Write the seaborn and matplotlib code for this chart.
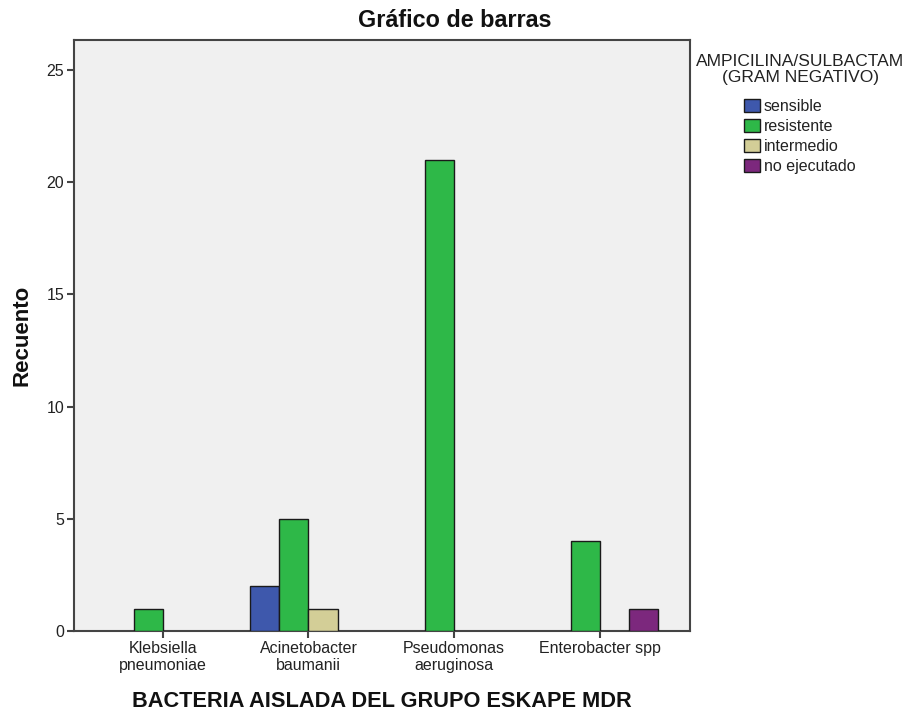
import matplotlib
matplotlib.use("Agg")
import matplotlib.pyplot as plt
import seaborn as sns
import pandas as pd

categories = ["Klebsiella\npneumoniae", "Acinetobacter\nbaumanii", "Pseudomonas\naeruginosa", "Enterobacter spp"]
hue_levels = ["sensible", "resistente", "intermedio", "no ejecutado"]
sensible = [0, 2, 0, 0]
resistente = [1, 5, 21, 4]
intermedio = [0, 1, 0, 0]
no_ejecutado = [0, 0, 0, 1]
colors = ["#3E58AC", "#2EB848", "#D3CE97", "#7C287D"]
yticks = [0, 5, 10, 15, 20, 25]

rows = []
for series, name in zip([sensible, resistente, intermedio, no_ejecutado], hue_levels):
    for cat, v in zip(categories, series):
        if v > 0:
            rows.append({"cat": cat, "grp": name, "n": v})
df = pd.DataFrame(rows)

sns.set_theme(style="white")
plt.rcParams['font.family'] = ['Liberation Sans', 'DejaVu Sans']

fig = plt.figure(figsize=(9.09, 7.11), dpi=100)
ax = fig.add_axes([0.0814, 0.1125, 0.6776, 0.8312])
ax.set_facecolor("#F0F0F0")

sns.barplot(data=df, x="cat", y="n", hue="grp", order=categories, hue_order=hue_levels,
            palette=colors, saturation=1, width=0.8, edgecolor="#1a1a1a", linewidth=1.0,
            errorbar=None, ax=ax, zorder=3)

ax.set_xlim(-0.61, 3.62)
ax.set_ylim(0, 26.34)
ax.set_yticks(yticks)
ax.set_yticklabels([str(t) for t in yticks], fontsize=11.5, color="#222222")
ax.tick_params(axis="x", labelsize=11.5, labelcolor="#222222")
ax.tick_params(axis="both", direction="out", length=5, width=1.5, color="#444444", pad=2,
               bottom=True, left=True)
for s in ax.spines.values():
    s.set_color("#444444")
    s.set_linewidth(1.5)
    s.set_visible(True)

ax.set_xlabel("BACTERIA AISLADA DEL GRUPO ESKAPE MDR", fontsize=15.7, fontweight="bold",
              labelpad=13, color="#111111")
ax.set_ylabel("Recuento", fontsize=16, fontweight="bold", labelpad=10, color="#111111")
fig.suptitle("Gráfico de barras", x=0.5, y=0.988, fontsize=16.8, fontweight="bold",
             color="#111111", va="top")

handles, labels = ax.get_legend_handles_labels()
if ax.legend_:
    ax.legend_.remove()
fig.text(800 / 909, 1 - 54 / 711, "AMPICILINA/SULBACTAM\n(GRAM NEGATIVO)", ha="center", va="top",
         fontsize=12.5, color="#222222", linespacing=1.1)
leg = fig.legend(handles, labels, loc="upper left", bbox_to_anchor=(744 / 909, 1 - 99 / 711),
                 frameon=False, fontsize=11.5, handlelength=1.0, handleheight=0.875,
                 handletextpad=0.25, labelspacing=0.32, borderpad=0, borderaxespad=0)
for h in leg.legend_handles:
    h.set_edgecolor("#1a1a1a")
    h.set_linewidth(1.0)
for t in leg.get_texts():
    t.set_color("#222222")

fig.savefig("out.png", dpi=100)
